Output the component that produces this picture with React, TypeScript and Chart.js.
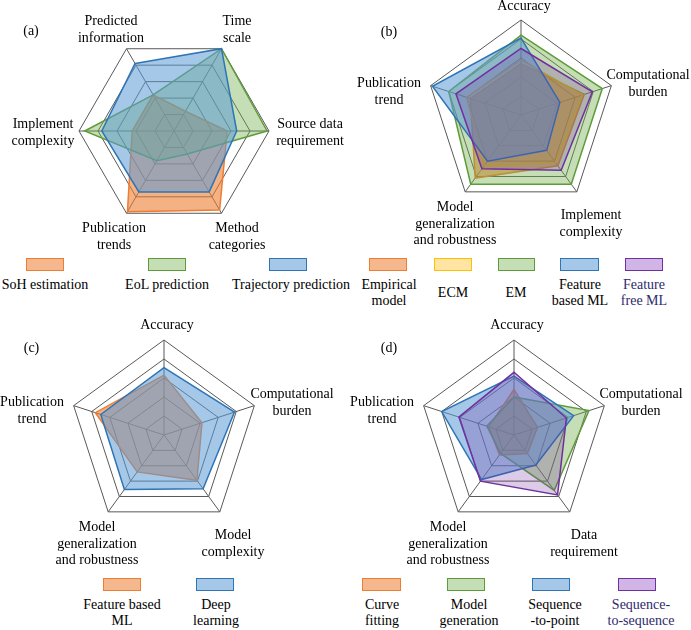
import React, { useEffect, useRef } from "react";
import { Chart, registerables } from "chart.js";

Chart.register(...registerables);

// ---------------- data ----------------
// (a)
const axesA = [
  ["Predicted", "information"],
  ["Time", "scale"],
  ["Source data", "requirement"],
  ["Method", "categories"],
  ["Publication", "trends"],
  ["Implement", "complexity"],
];
const sohEstimation = [2.2, 1.2, 2.8, 4.8, 4.9, 2.2];
const eolPrediction = [2.2, 5, 4.9, 1.4, 1.8, 4.7];
const trajectoryPrediction = [4.1, 5, 3.3, 3.7, 3.7, 3.8];

// (b)
const axesB = [
  ["Accuracy"],
  ["Computational", "burden"],
  ["Implement", "complexity"],
  ["Model", "generalization", "and robustness"],
  ["Publication", "trend"],
];
const empiricalModel = [2.7, 3.5, 3.3, 4.1, 2.8];
const ecmValues = [2.9, 3.4, 3.1, 3.3, 3.0];
const emValues = [4.2, 4.5, 4.5, 4.5, 4.0];
const featureBasedML_b = [4.05, 2.15, 2.3, 3.0, 4.9];
const featureFreeML = [3.5, 3.95, 3.6, 3.5, 3.6];

// (c)
const axesC = [
  ["Accuracy"],
  ["Computational", "burden"],
  ["Model", "complexity"],
  ["Model", "generalization", "and robustness"],
  ["Publication", "trend"],
];
const featureBasedML_c = [3.15, 2.1, 2.95, 2.4, 3.8];
const deepLearning = [3.55, 3.9, 3.5, 3.55, 3.5];

// (d)
const axesD = [
  ["Accuracy"],
  ["Computational", "burden"],
  ["Data", "requirement"],
  ["Model", "generalization", "and robustness"],
  ["Publication", "trend"],
];
const curveFitting = [2.4, 1.3, 1.2, 1.3, 1.4];
const modelGeneration = [2.0, 4.15, 3.6, 1.2, 1.5];
const sequenceToPoint = [3.1, 3.3, 1.95, 2.9, 4.0];
const sequenceToSequence = [3.3, 2.9, 3.9, 3.0, 3.05];

const scaleMin = 0;
const scaleMax = 5;
const scaleStep = 1;

// ---------------- styles ----------------
const FONT = '"Liberation Serif", "Times New Roman", Times, serif';
const CANVAS_FONT = '14px "Liberation Serif"';
const GRID = "#595959";
const PALETTE: Record<string, { border: string; fill: string; box: string }> = {
  orange: { border: "#ED7D31", fill: "rgba(237,125,49,0.6)", box: "rgba(237,125,49,0.55)" },
  yellow: { border: "#FFC000", fill: "rgba(255,192,0,0.3)", box: "rgba(255,205,90,0.55)" },
  green: { border: "#5E9C3A", fill: "rgba(112,173,71,0.4)", box: "rgba(112,173,71,0.4)" },
  blue: { border: "#2E75B6", fill: "rgba(91,155,213,0.55)", box: "rgba(91,155,213,0.55)" },
  purple: { border: "#7030A0", fill: "rgba(112,48,160,0.25)", box: "rgba(150,90,200,0.45)" },
};

type Series = { name: string; values: number[]; color: string };
type PanelSpec = {
  tag: string;
  axes: string[][];
  series: Series[];
  left: number;
  top: number;
  width: number;
  height: number;
  cx: number;
  cy: number;
  R: number;
  startAngle: number;
  labelOffsets: number[][];
  tagOffset: number[];
};

const panels: PanelSpec[] = [
  {
    tag: "(a)",
    axes: axesA,
    series: [
      { name: "SoH estimation", values: sohEstimation, color: "orange" },
      { name: "EoL prediction", values: eolPrediction, color: "green" },
      { name: "Trajectory prediction", values: trajectoryPrediction, color: "blue" },
    ],
    left: 0, top: 0, width: 345, height: 255,
    cx: 174, cy: 131, R: 95, startAngle: -30,
    labelOffsets: [[-63, -101], [63, -101], [136, 2], [63, 105.5], [-60, 105.5], [-131, 2]],
    tagOffset: [-143, -100],
  },
  {
    tag: "(b)",
    axes: axesB,
    series: [
      { name: "Empirical model", values: empiricalModel, color: "orange" },
      { name: "ECM", values: ecmValues, color: "yellow" },
      { name: "EM", values: emValues, color: "green" },
      { name: "Feature based ML", values: featureBasedML_b, color: "blue" },
      { name: "Feature free ML", values: featureFreeML, color: "purple" },
    ],
    left: 345, top: 0, width: 346, height: 255,
    cx: 176, cy: 115, R: 95, startAngle: 0,
    labelOffsets: [[3, -109], [127, -31.5], [70, 109], [-66, 109], [-132, -23.5]],
    tagOffset: [-132, -83],
  },
  {
    tag: "(c)",
    axes: axesC,
    series: [
      { name: "Feature based ML", values: featureBasedML_c, color: "orange" },
      { name: "Deep learning", values: deepLearning, color: "blue" },
    ],
    left: 0, top: 305, width: 345, height: 270,
    cx: 164, cy: 130, R: 95, startAngle: 0,
    labelOffsets: [[3, -110], [128, -32], [69, 108.5], [-67, 109], [-132, -24.5]],
    tagOffset: [-132.5, -87],
  },
  {
    tag: "(d)",
    axes: axesD,
    series: [
      { name: "Curve fitting", values: curveFitting, color: "orange" },
      { name: "Model generation", values: modelGeneration, color: "green" },
      { name: "Sequence-to-point", values: sequenceToPoint, color: "blue" },
      { name: "Sequence-to-sequence", values: sequenceToSequence, color: "purple" },
    ],
    left: 345, top: 305, width: 346, height: 270,
    cx: 169, cy: 130, R: 95, startAngle: 0,
    labelOffsets: [[3, -110], [127, -32], [70, 108.5], [-66, 109], [-132, -24.5]],
    tagOffset: [-125, -87],
  },
];

type LegendItem = { lines: string[]; color: string; boxLeft: number; boxWidth: number; textX: number; textColor?: string };
type LegendRow = { boxTop: number; boxHeight: number; textY: number; items: LegendItem[] };

const legendRows: LegendRow[] = [
  {
    boxTop: 258, boxHeight: 13, textY: 285.5,
    items: [
      { lines: ["SoH estimation"], color: "orange", boxLeft: 26, boxWidth: 38, textX: 45 },
      { lines: ["EoL prediction"], color: "green", boxLeft: 148, boxWidth: 38, textX: 167 },
      { lines: ["Trajectory prediction"], color: "blue", boxLeft: 269, boxWidth: 38, textX: 291 },
    ],
  },
  {
    boxTop: 258, boxHeight: 13, textY: 293.3,
    items: [
      { lines: ["Empirical", "model"], color: "orange", boxLeft: 369, boxWidth: 38, textX: 389 },
      { lines: ["ECM"], color: "yellow", boxLeft: 434, boxWidth: 38, textX: 453 },
      { lines: ["EM"], color: "green", boxLeft: 498, boxWidth: 37, textX: 516 },
      { lines: ["Feature", "based ML"], color: "blue", boxLeft: 560, boxWidth: 39, textX: 580 },
      { lines: ["Feature", "free ML"], color: "purple", boxLeft: 625, boxWidth: 38, textX: 644, textColor: "#2E2A6E" },
    ],
  },
  {
    boxTop: 578, boxHeight: 13, textY: 613.3,
    items: [
      { lines: ["Feature based", "ML"], color: "orange", boxLeft: 103, boxWidth: 38, textX: 122 },
      { lines: ["Deep", "learning"], color: "blue", boxLeft: 196, boxWidth: 38, textX: 216 },
      { lines: ["Curve", "fitting"], color: "orange", boxLeft: 362, boxWidth: 39, textX: 382 },
      { lines: ["Model", "generation"], color: "green", boxLeft: 447, boxWidth: 38, textX: 469 },
      { lines: ["Sequence", "-to-point"], color: "blue", boxLeft: 532, boxWidth: 38, textX: 555 },
      { lines: ["Sequence-", "to-sequence"], color: "purple", boxLeft: 618, boxWidth: 38, textX: 641, textColor: "#2E2A6E" },
    ],
  },
];

const LINE_H = 16.7;

function RadarPanel({ spec }: { spec: PanelSpec }) {
  const ref = useRef<HTMLCanvasElement>(null);
  useEffect(() => {
    if (!ref.current) return;
    const n = spec.series.length;
    const labelPlugin = {
      id: "customLabels" + spec.tag.replace(/[()]/g, ""),
      afterDraw(chart: any) {
        const ctx = chart.ctx;
        const s = chart.scales.r;
        ctx.save();
        ctx.font = CANVAS_FONT;
        ctx.fillStyle = "#000";
        ctx.textAlign = "center";
        ctx.textBaseline = "middle";
        spec.axes.forEach((lines, i) => {
          const [dx, dy] = spec.labelOffsets[i];
          const m = lines.length;
          lines.forEach((ln, k) => {
            ctx.fillText(ln, s.xCenter + dx, s.yCenter + dy + (k - (m - 1) / 2) * LINE_H);
          });
        });
        ctx.fillText(spec.tag, s.xCenter + spec.tagOffset[0], s.yCenter + spec.tagOffset[1]);
        ctx.restore();
      },
    };
    const chart = new Chart(ref.current, {
      type: "radar",
      data: {
        labels: spec.axes,
        datasets: spec.series.map((s, i) => ({
          label: s.name,
          data: s.values,
          borderColor: PALETTE[s.color].border,
          backgroundColor: PALETTE[s.color].fill,
          borderWidth: 1.5,
          fill: true,
          pointRadius: 0,
          pointHoverRadius: 0,
          tension: 0,
          order: n - 1 - i,
        })),
      },
      options: {
        responsive: false,
        maintainAspectRatio: false,
        animation: false,
        devicePixelRatio: 1,
        layout: {
          padding: {
            left: spec.cx - spec.R,
            top: spec.cy - spec.R,
            right: spec.width - spec.cx - spec.R,
            bottom: spec.height - spec.cy - spec.R,
          },
        },
        plugins: { legend: { display: false }, tooltip: { enabled: false } },
        scales: {
          r: {
            min: scaleMin,
            max: scaleMax,
            startAngle: spec.startAngle,
            ticks: { display: false, stepSize: scaleStep },
            grid: { color: GRID, lineWidth: 1 },
            angleLines: { color: GRID, lineWidth: 1 },
            pointLabels: { display: false },
          },
        },
      } as any,
      plugins: [labelPlugin],
    });
    let alive = true;
    if ((document as any).fonts && (document as any).fonts.load) {
      (document as any).fonts.load(CANVAS_FONT).then(() => {
        if (alive) chart.draw();
      }).catch(() => {});
    }
    return () => {
      alive = false;
      chart.destroy();
    };
  }, [spec]);
  return (
    <canvas
      ref={ref}
      width={spec.width}
      height={spec.height}
      style={{ position: "absolute", left: spec.left, top: spec.top, width: spec.width, height: spec.height }}
    />
  );
}

function Legend({ row }: { row: LegendRow }) {
  return (
    <>
      {row.items.map((it, i) => (
        <React.Fragment key={i}>
          <div
            style={{
              position: "absolute",
              left: it.boxLeft,
              top: row.boxTop,
              width: it.boxWidth,
              height: row.boxHeight,
              boxSizing: "border-box",
              border: `1.5px solid ${PALETTE[it.color].border}`,
              background: PALETTE[it.color].box,
            }}
          />
          <div
            style={{
              position: "absolute",
              left: it.textX - 80,
              width: 160,
              top: row.textY - (it.lines.length * LINE_H) / 2,
              textAlign: "center",
              fontFamily: FONT,
              fontSize: 14,
              lineHeight: `${LINE_H}px`,
              color: it.textColor || "#000",
              whiteSpace: "nowrap",
            }}
          >
            {it.lines.map((l, k) => (
              <div key={k}>{l}</div>
            ))}
          </div>
        </React.Fragment>
      ))}
    </>
  );
}

export default function App() {
  return (
    <div
      style={{
        position: "absolute",
        left: 0,
        top: 0,
        width: 691,
        height: 630,
        background: "#fff",
        overflow: "hidden",
        fontFamily: FONT,
      }}
    >
      {legendRows.map((r, i) => (
        <Legend key={i} row={r} />
      ))}
      {panels.map((p) => (
        <RadarPanel key={p.tag} spec={p} />
      ))}
    </div>
  );
}
